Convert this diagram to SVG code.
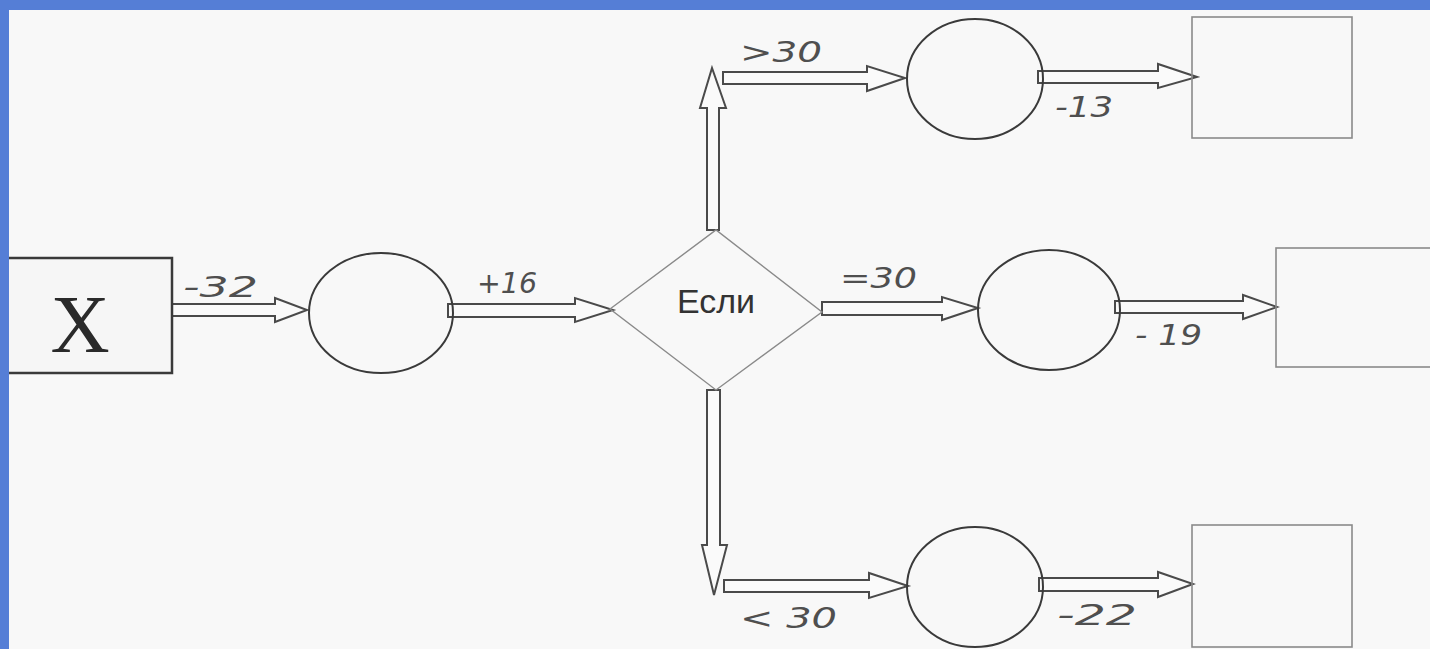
<svg xmlns="http://www.w3.org/2000/svg" width="1430" height="649" viewBox="0 0 1430 649">
<style>
.bg{fill:#f8f8f8}
.frame{fill:#557ed6}
.ell{fill:none;stroke:#3a3a3a;stroke-width:2}
.box{fill:none;stroke:#8a8a8a;stroke-width:1.6}
.xbox{fill:#f6f6f6;stroke:#3a3a3a;stroke-width:2.5}
.dia{fill:none;stroke:#8a8a8a;stroke-width:1.4}
.arr{fill:#fafafa;stroke:#4a4a4a;stroke-width:2;stroke-linejoin:miter}
.lbl{font-family:"DejaVu Sans","Liberation Sans",sans-serif;font-style:oblique;font-size:29px;fill:#4f4f4f}
</style>
<rect class="bg" x="0" y="0" width="1430" height="649"/>

<g id="connectors">
  <polygon class="arr" points="172,304 275,304 275,298 307,310 275,322 275,316 172,316"/>
  <polygon class="arr" points="448,304 575,304 575,298 613,310 575,322 575,317 448,317"/>
  <polygon class="arr" points="822,302 942,302 942,297 978,308 942,320 942,315 822,315"/>
  <polygon class="arr" points="707,230 707,108 700,108 712,68 726,108 719,108 719,230"/>
  <polygon class="arr" points="723,72 867,72 867,66 905,78 867,91 867,84 723,84"/>
  <polygon class="arr" points="707,390 707,545 702,545 714,595 727,545 720,545 720,390"/>
  <polygon class="arr" points="724,580 869,580 869,573 908,586 869,598 869,592 724,592"/>
  <polygon class="arr" points="1038,71 1158,71 1158,64 1197,77 1158,88 1158,83 1038,83"/>
  <polygon class="arr" points="1115,301 1243,301 1243,295 1277,307 1243,319 1243,313 1115,313"/>
  <polygon class="arr" points="1039,578 1158,578 1158,572 1193,584 1158,597 1158,591 1039,591"/>
  <text class="lbl" x="183" y="297" textLength="75" lengthAdjust="spacingAndGlyphs">-32</text>
  <text class="lbl" x="477" y="293" textLength="60" lengthAdjust="spacingAndGlyphs">+16</text>
  <text class="lbl" x="840" y="288" textLength="77" lengthAdjust="spacingAndGlyphs">=30</text>
  <text class="lbl" x="740" y="62" textLength="82" lengthAdjust="spacingAndGlyphs">&gt;30</text>
  <text class="lbl" x="740" y="628" textLength="97" lengthAdjust="spacingAndGlyphs">&lt; 30</text>
  <text class="lbl" x="1055" y="117" textLength="58" lengthAdjust="spacingAndGlyphs">-13</text>
  <text class="lbl" x="1135" y="345" textLength="67" lengthAdjust="spacingAndGlyphs">- 19</text>
  <text class="lbl" x="1057" y="625" textLength="80" lengthAdjust="spacingAndGlyphs">-22</text>
</g>

<g id="node-x">
  <rect class="xbox" x="4" y="258" width="168" height="115"/>
  <text x="80" y="352" text-anchor="middle" font-family="Liberation Serif, serif" font-size="82" fill="#2a2a2a">X</text>
</g>
<g id="node-op1"><ellipse class="ell" cx="381" cy="313" rx="72" ry="60"/></g>
<g id="node-if">
  <polygon class="dia" points="610,309 716,230 822,312 716,390"/>
  <text x="716" y="313" text-anchor="middle" font-family="Liberation Sans, Arial, sans-serif" font-size="34" fill="#333">Если</text>
</g>
<g id="node-op-top"><ellipse class="ell" cx="975" cy="79" rx="68" ry="60"/></g>
<g id="node-op-mid"><ellipse class="ell" cx="1049" cy="310" rx="71" ry="60"/></g>
<g id="node-op-bot"><ellipse class="ell" cx="975" cy="587" rx="68" ry="60"/></g>
<g id="node-res-top"><rect class="box" x="1192" y="17" width="160" height="121"/></g>
<g id="node-res-mid"><rect class="box" x="1276" y="248" width="160" height="119"/></g>
<g id="node-res-bot"><rect class="box" x="1192" y="525" width="160" height="122"/></g>

<rect class="frame" x="0" y="0" width="1430" height="10"/>
<rect class="frame" x="0" y="0" width="9" height="649"/>
</svg>
